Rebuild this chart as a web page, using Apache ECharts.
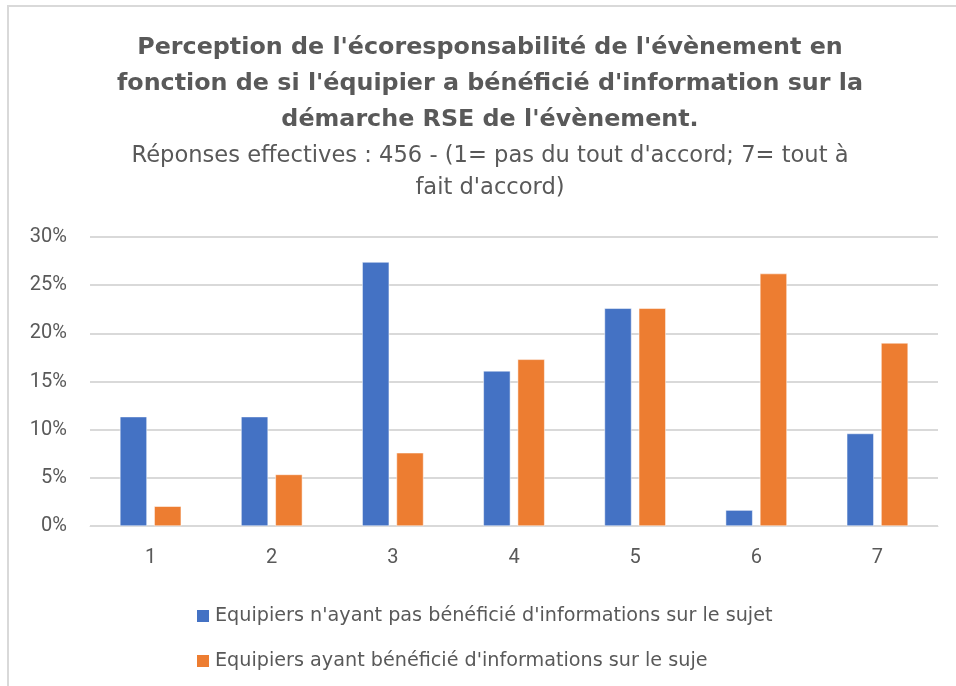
<!DOCTYPE html>
<html>
<head>
<meta charset="utf-8">
<script src="https://cdn.jsdelivr.net/npm/echarts@6/dist/echarts.min.js"></script>
<style>
  html, body { margin:0; padding:0; background:#fff; overflow:hidden; }
  #frame { position:absolute; left:7px; top:5px; width:960px; height:700px; border-left:2px solid #d9d9d9; border-top:2px solid #d9d9d9; box-sizing:border-box; }
  #chart { position:absolute; left:0; top:0; width:956px; height:686px; }
</style>
</head>
<body>
<div id="frame"></div>
<div id="chart"></div>
<script>
// données (en %)
const categories = ['1', '2', '3', '4', '5', '6', '7'];
const sansInfo   = [11.35, 11.35, 27.4, 16.1, 22.6, 1.65, 9.6];
const avecInfo   = [2.05, 5.35, 7.6, 17.3, 22.6, 26.2, 19.0];
const yTicks     = ['0%', '5%', '10%', '15%', '20%', '25%', '30%'];
const seriesNames = [
  "Equipiers n'ayant pas bénéficié d'informations sur le sujet",
  "Equipiers ayant bénéficié d'informations sur le suje"
];

const FONT = 'DejaVu Sans';
const AXFONT = 'Roboto';
const GREY = '#595959';

const chart = echarts.init(document.getElementById('chart'));

chart.setOption({
  animation: false,
  textStyle: { fontFamily: FONT },
  title: {
    left: 485,
    top: 25,
    textAlign: 'center',
    text: "Perception de l'écoresponsabilité de l'évènement en\nfonction de si l'équipier a bénéficié d'information sur la\ndémarche RSE de l'évènement.",
    textStyle: { fontFamily: FONT, fontSize: 23.8, fontWeight: 'bold', color: GREY, lineHeight: 36 },
    subtext: "Réponses effectives : 456 - (1= pas du tout d'accord; 7= tout à\nfait d'accord)",
    subtextStyle: { fontFamily: FONT, fontSize: 22.6, color: GREY, lineHeight: 32 },
    itemGap: 2
  },
  grid: { left: 90, right: 18, top: 237, bottom: 160, containLabel: false },
  legend: {
    orient: 'vertical',
    left: 190,
    top: 601,
    itemWidth: 14,
    itemHeight: 14,
    itemGap: 25,
    icon: 'rect',
    textStyle: { fontFamily: FONT, fontSize: 19.2, color: GREY, lineHeight: 20 },
    data: seriesNames
  },
  xAxis: {
    type: 'category',
    data: categories,
    axisLine: { show: true, lineStyle: { color: '#d9d9d9', width: 1 } },
    axisTick: { show: false },
    axisLabel: { color: GREY, fontSize: 20, fontFamily: AXFONT, margin: 22 }
  },
  yAxis: {
    type: 'value',
    min: 0,
    max: 30,
    interval: 5,
    axisLine: { show: false },
    axisTick: { show: false },
    splitLine: { lineStyle: { color: '#d9d9d9', width: 2 } },
    axisLabel: {
      color: GREY, fontSize: 20, fontFamily: AXFONT, margin: 23,
      formatter: (v) => yTicks[Math.round(v / 5)]
    }
  },
  series: [
    {
      name: seriesNames[0],
      type: 'bar',
      data: sansInfo,
      barWidth: 27,
      barGap: '27%',
      itemStyle: { color: '#4472c4', borderColor: '#ffffff', borderWidth: 0.5 }
    },
    {
      name: seriesNames[1],
      type: 'bar',
      data: avecInfo,
      barWidth: 27,
      barGap: '27%',
      itemStyle: { color: '#ed7d31', borderColor: '#ffffff', borderWidth: 0.5 }
    }
  ]
});
</script>
</body>
</html>
